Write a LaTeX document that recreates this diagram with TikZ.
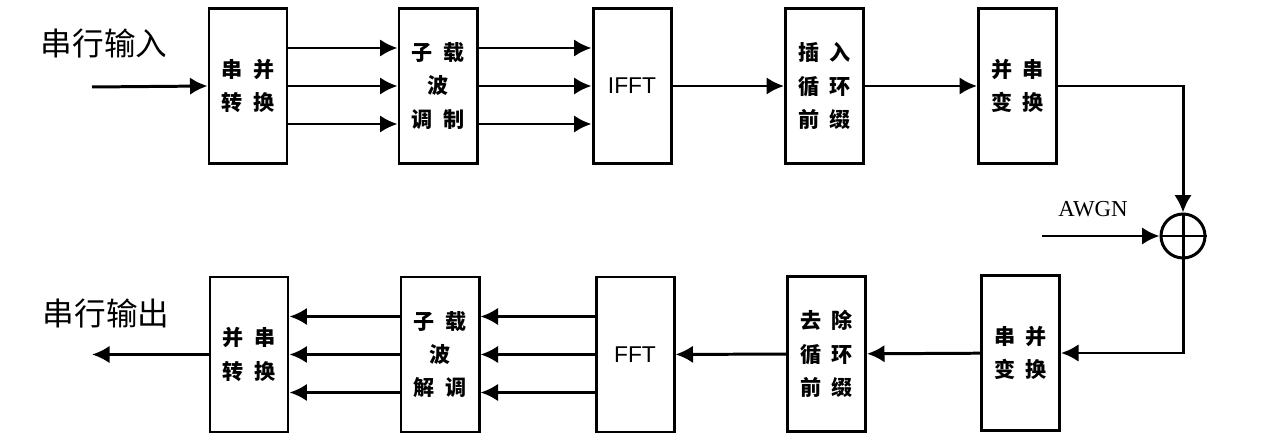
\documentclass[tikz,border=0pt]{standalone}
\usepackage{fontspec}
\usepackage{tikz}
\usetikzlibrary{arrows.meta}
\newfontfamily\cjk{Noto Sans CJK SC}
\newfontfamily\awgnfont{Liberation Serif}
\newfontfamily\fftfont{Liberation Sans}

\begin{document}
\begin{tikzpicture}[x=0.2cm, y=-0.2cm, line width=1.7pt,
  blk/.style={draw, minimum width=1.56cm, minimum height=3.1cm, inner sep=0pt,
    align=center, font=\cjk\bfseries\fontsize{12}{19}\selectfont},
  fftblk/.style={blk, font=\fftfont\fontsize{13}{15}\selectfont},
  arr/.style={-{Latex[length=3.5mm, width=3.5mm]}},
  lbl/.style={font=\cjk\fontsize{18}{20}\selectfont}]
  \useasboundingbox (0,0) rectangle (126.9,44.7);

  \node[blk] (sp) at (24.8,8.6) {串\hspace{0.5em}并\\转\hspace{0.5em}换};
  \node[blk] (mod) at (43.8,8.6) {子\hspace{0.5em}载\\波\\调\hspace{0.5em}制};
  \node[fftblk] (ifft) at (63.2,8.6) {IFFT};
  \node[blk] (addcp) at (82.45,8.6) {插\hspace{0.5em}入\\循\hspace{0.5em}环\\前\hspace{0.5em}缀};
  \node[blk] (ps) at (101.75,8.6) {并\hspace{0.5em}串\\变\hspace{0.5em}换};

  \node[blk] (sp2) at (102.05,35.3) {串\hspace{0.5em}并\\变\hspace{0.5em}换};
  \node[blk] (rmcp) at (82.65,35.4) {去\hspace{0.5em}除\\循\hspace{0.5em}环\\前\hspace{0.5em}缀};
  \node[fftblk] (fft) at (63.5,35.45) {FFT};
  \node[blk] (demod) at (44.0,35.45) {子\hspace{0.5em}载\\波\\解\hspace{0.5em}调};
  \node[blk] (ps2) at (24.9,35.45) {并\hspace{0.5em}串\\转\hspace{0.5em}换};

  \node[draw, circle, minimum size=0.88cm, inner sep=0pt] (sum) at (118.3,23.6) {};
  \draw (sum.north) -- (sum.south);
  \draw (sum.west) -- (sum.east);

  \node[lbl] (in) at (10.4,4.3) {串行输入};
  \node[lbl] (out) at (10.6,31.3) {串行输出};
  \node[font=\awgnfont\fontsize{13}{15}\selectfont] (awgn) at (109.3,20.9) {AWGN};

  \coordinate (src) at (9.2,8.7);
  \coordinate (snk) at (9.2,35.45);
  \coordinate (noise) at (104.2,23.6);

  \draw[arr] (src) -- (sp.west);
  \foreach \dy in {-0.76,0,0.76} {
    \draw[arr] ([yshift=\dy cm]sp.east) -- ([yshift=\dy cm]mod.west);
    \draw[arr] ([yshift=\dy cm]mod.east) -- ([yshift=\dy cm]ifft.west);
    \draw[arr] ([yshift=\dy cm]fft.west) -- ([yshift=\dy cm]demod.east);
    \draw[arr] ([yshift=\dy cm]demod.west) -- ([yshift=\dy cm]ps2.east);
  }
  \draw[arr] (ifft) -- (addcp);
  \draw[arr] (addcp) -- (ps);
  \draw[arr] (ps.east) -| (sum.north);
  \draw[arr] (noise) -- (sum.west);
  \draw[arr] (sum.south) |- (sp2.east);
  \draw[arr] (sp2) -- (rmcp);
  \draw[arr] (rmcp) -- (fft);
  \draw[arr] (ps2.west) -- (snk);

\end{tikzpicture}
\end{document}
